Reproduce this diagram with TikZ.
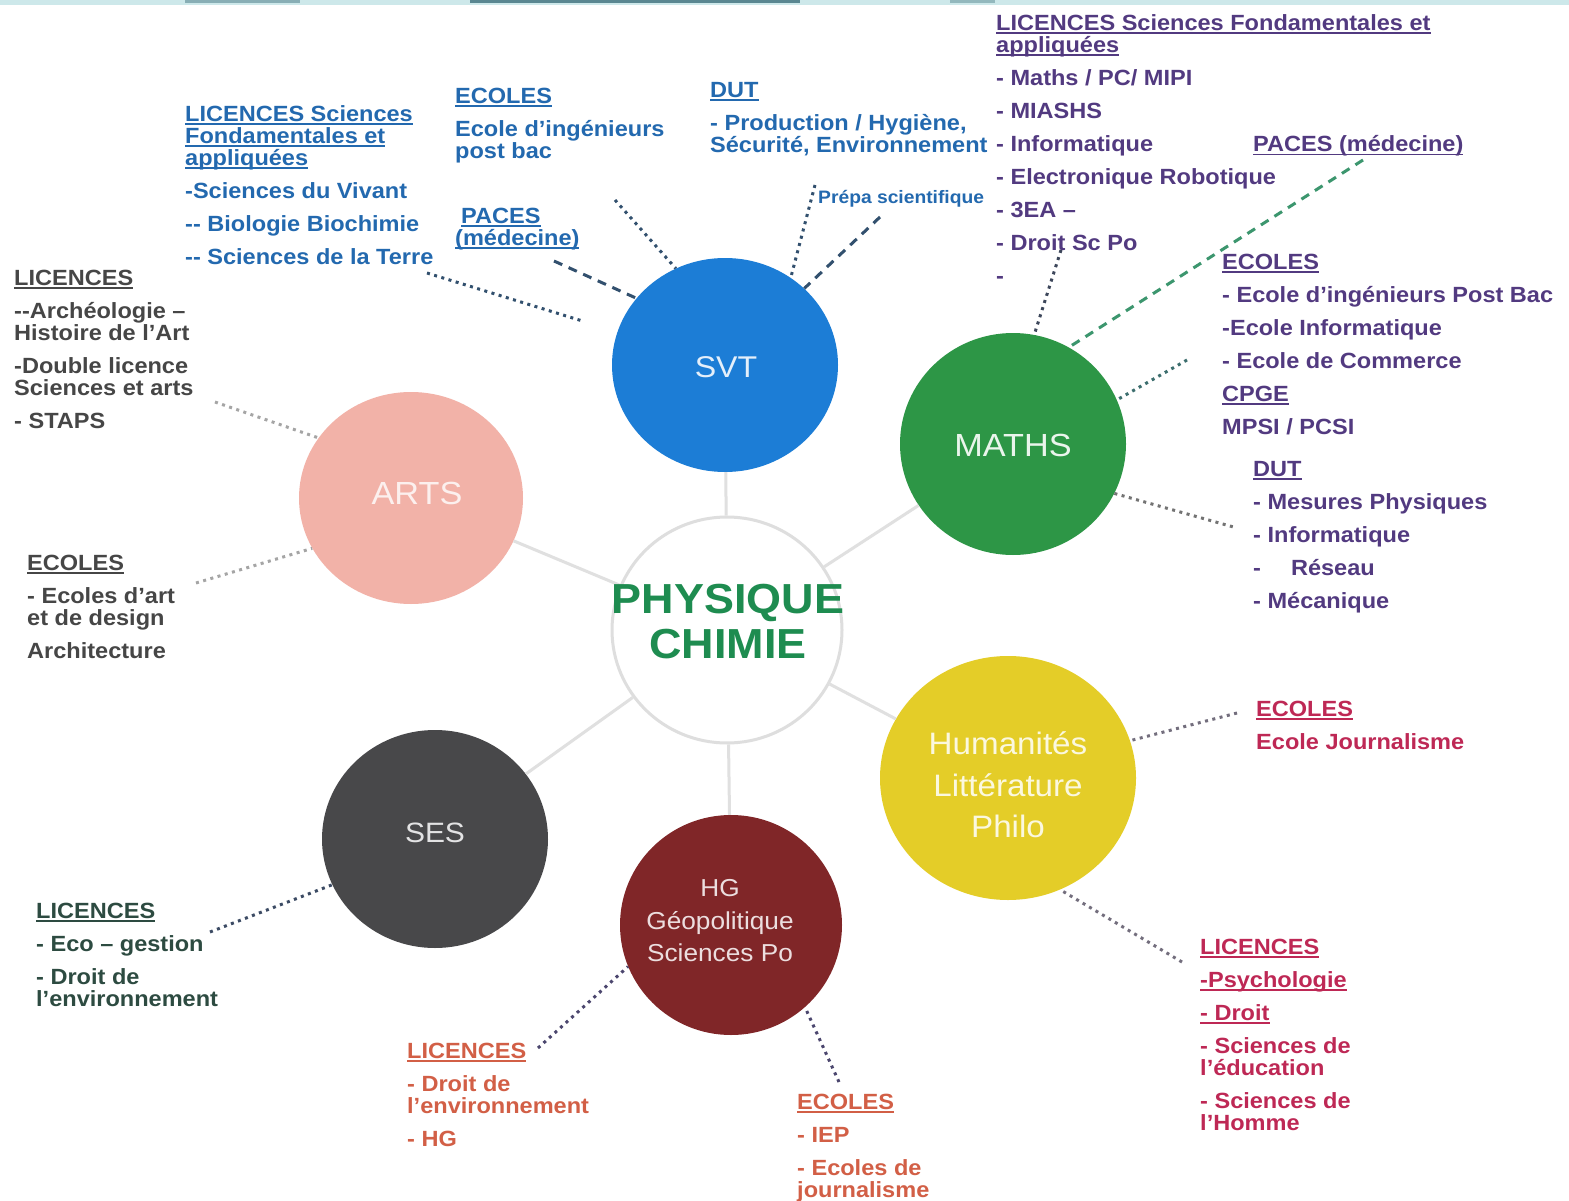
\documentclass[tikz,border=0pt]{standalone}
\usepackage{fontspec}
\setmainfont{Liberation Sans}[FakeStretch=1.07]
\usetikzlibrary{shapes.geometric}
\definecolor{svtcol}{RGB}{28,125,214}
\definecolor{mathscol}{RGB}{45,150,70}
\definecolor{artscol}{RGB}{242,178,168}
\definecolor{humcol}{RGB}{228,205,40}
\definecolor{sescol}{RGB}{72,72,74}
\definecolor{hgcol}{RGB}{128,38,40}
\definecolor{ringgray}{RGB}{222,222,222}
\definecolor{spokegray}{RGB}{224,224,224}
\definecolor{pcgreen}{RGB}{30,140,80}
\definecolor{tsvt}{RGB}{35,105,175}
\definecolor{tmaths}{RGB}{82,58,128}
\definecolor{tarts}{RGB}{70,70,70}
\definecolor{thum}{RGB}{190,40,85}
\definecolor{tses}{RGB}{45,75,65}
\definecolor{thg}{RGB}{210,95,70}
\definecolor{lsvt}{RGB}{50,80,110}
\definecolor{lmaths}{RGB}{60,70,90}
\definecolor{lgreen}{RGB}{60,150,110}
\definecolor{lteal}{RGB}{60,110,110}
\definecolor{lgray}{RGB}{115,115,115}
\definecolor{llight}{RGB}{165,165,165}
\definecolor{lhum}{RGB}{115,110,125}
\definecolor{lses}{RGB}{60,75,100}
\definecolor{lhg}{RGB}{75,70,110}
\definecolor{bandlight}{RGB}{205,232,234}
\definecolor{banddark}{RGB}{90,135,145}
\newcommand\myul[1]{\leavevmode\setbox0=\hbox{#1}\rlap{\rule[-4pt]{\wd0}{1.8pt}}\box0}
\newcommand\fs{\rule{0pt}{16pt}}
\begin{document}
\begin{tikzpicture}[x=1pt,y=-1pt,
  txt/.style={anchor=north west, inner sep=0pt, align=left, font=\fontsize{22}{22}\selectfont\bfseries},
  dotc/.style={line width=3pt, dash pattern=on 3pt off 4.5pt},
  dashc/.style={line width=3pt, dash pattern=on 9pt off 7pt},
  bub/.style={ellipse, inner sep=0pt},
  spoke/.style={draw=spokegray, line width=3pt},
  ctext/.style={align=center, inner sep=0pt}]
\fill[white] (0,0) rectangle (1569,1201);
\useasboundingbox (0,0) rectangle (1569,1201);
\fill[bandlight] (0,0) rectangle (1569,5);
\fill[banddark] (470,0) rectangle (800,3.5);
\fill[banddark!60!bandlight] (185,0) rectangle (300,3.5);
\fill[banddark!50!bandlight] (950,0) rectangle (995,3.5);

% circles
\node[bub, draw=ringgray, line width=3pt, fill=white, minimum width=230pt, minimum height=226pt] (pc) at (727,630) {};
\node[bub, fill=svtcol, minimum width=226pt, minimum height=214pt] (svt) at (725,365) {};
\node[bub, fill=mathscol, minimum width=226pt, minimum height=222pt] (maths) at (1013,444) {};
\node[bub, fill=artscol, minimum width=224pt, minimum height=212pt] (arts) at (411,498) {};
\node[bub, fill=humcol, minimum width=256pt, minimum height=244pt] (hum) at (1008,778) {};
\node[bub, fill=sescol, minimum width=226pt, minimum height=218pt] (ses) at (435,839) {};
\node[bub, fill=hgcol, minimum width=222pt, minimum height=220pt] (hg) at (731,925) {};

% spokes
\foreach \n in {svt,maths,arts,hum,ses,hg} \draw[spoke] (pc) -- (\n);

% circle labels
\node[ctext, text=white!88!svtcol, font=\fontsize{30}{36}\selectfont] (svtl) at (726,367) {SVT};
\node[ctext, text=white!90!mathscol, font=\fontsize{32}{38}\selectfont] (mathsl) at (1013,445) {MATHS};
\node[ctext, text=white!80!artscol, font=\fontsize{32}{38}\selectfont] (artsl) at (417,493) {ARTS};
\node[ctext, text=white!85!humcol, font=\fontsize{31}{41.5}\selectfont] (huml) at (1008,785) {Humanités\\Littérature\\Philo};
\node[ctext, text=white!85!sescol, font=\fontsize{28}{34}\selectfont] (sesl) at (435,833) {SES};
\node[ctext, text=white!85!hgcol, font=\fontsize{24.5}{32.5}\selectfont] (hgl) at (720,921) {HG\\Géopolitique\\Sciences Po};
\node[ctext, text=pcgreen, font=\fontsize{42}{45}\selectfont\bfseries] (pct) at (728,622) {PHYSIQUE\\CHIMIE};

% SVT texts
\node[txt, text=tsvt] (svtlic) at (185,105) {\fs\myul{LICENCES Sciences}\\\myul{Fondamentales et}\\\myul{appliquées}\\[11pt]-Sciences du Vivant\\[11pt]-{}- Biologie Biochimie\\[11pt]-{}- Sciences de la Terre};
\node[txt, text=tsvt] (svtec) at (455,87) {\fs\myul{ECOLES}\\[11pt]Ecole d’ingénieurs\\post bac};
\node[txt, text=tsvt] (svtpaces) at (455,207) {\fs\hspace{6pt}\myul{PACES}\\\myul{(médecine)}};
\node[txt, text=tsvt] (svtdut) at (710,81) {\fs\myul{DUT}\\[11pt]- Production / Hygiène,\\Sécurité, Environnement};
\node[txt, text=tsvt, font=\fontsize{18}{20}\selectfont\bfseries] (prepa) at (818,190) {\rule{0pt}{13pt}Prépa scientifique};

% MATHS texts
\node[txt, text=tmaths] (mlic) at (996,14) {\fs\myul{LICENCES Sciences Fondamentales et}\\\myul{appliquées}\\[11pt]- Maths / PC/ MIPI\\[11pt]- MIASHS\\[11pt]- Informatique\\[11pt]- Electronique Robotique\\[11pt]- 3EA –\\[11pt]- Droit Sc Po\\[11pt]-};
\node[txt, text=tmaths] (mpaces) at (1253,135) {\fs\myul{PACES (médecine)}};
\node[txt, text=tmaths] (mec) at (1222,253) {\fs\myul{ECOLES}\\[11pt]- Ecole d’ingénieurs Post Bac\\[11pt]-Ecole Informatique\\[11pt]- Ecole de Commerce\\[11pt]\myul{CPGE}\\[11pt]MPSI / PCSI};
\node[txt, text=tmaths] (mdut) at (1253,460) {\fs\myul{DUT}\\[11pt]- Mesures Physiques\\[11pt]- Informatique\\[11pt]-\hspace{30pt}Réseau\\[11pt]- Mécanique};

% ARTS texts
\node[txt, text=tarts] (alic) at (14,269) {\fs\myul{LICENCES}\\[11pt]-{}-Archéologie –\\Histoire de l’Art\\[11pt]-Double licence\\Sciences et arts\\[11pt]- STAPS};
\node[txt, text=tarts] (aec) at (27,554) {\fs\myul{ECOLES}\\[11pt]- Ecoles d’art\\et de design\\[11pt]Architecture};

% Humanites texts
\node[txt, text=thum] (hec) at (1256,700) {\fs\myul{ECOLES}\\[11pt]Ecole Journalisme};
\node[txt, text=thum] (hlic) at (1200,938) {\fs\myul{LICENCES}\\[11pt]\myul{-Psychologie}\\[11pt]\myul{- Droit}\\[11pt]- Sciences de\\l’éducation\\[11pt]- Sciences de\\l’Homme};

% SES texts
\node[txt, text=tses] (slic) at (36,902) {\fs\myul{LICENCES}\\[11pt]- Eco – gestion\\[11pt]- Droit de\\l’environnement};

% HG texts
\node[txt, text=thg] (glic) at (407,1042) {\fs\myul{LICENCES}\\[11pt]- Droit de\\l’environnement\\[11pt]- HG};
\node[txt, text=thg] (gec) at (797,1093) {\fs\myul{ECOLES}\\[11pt]- IEP\\[11pt]- Ecoles de\\journalisme};

% connectors
\coordinate (e1) at (427,273);
\draw[dotc, lsvt, shorten >=36pt] (e1) -- (svt);
\coordinate (e2) at (554,261);
\draw[dashc, lsvt] (e2) -- (svt.143);
\coordinate (e3) at (615,200);
\draw[dotc, lsvt] (e3) -- (svt.117);
\coordinate (e4) at (815,185);
\draw[dotc, lsvt] (e4) -- (svt.53);
\coordinate (e5) at (880,217);
\draw[dashc, lsvt] (e5) -- (svt.44);

\coordinate (e6) at (1061,250);
\draw[dotc, lmaths] (e6) -- (maths.79);
\coordinate (e7) at (1363,160);
\draw[dashc, lgreen] (e7) -- (maths.60);
\coordinate (e8) at (1187,360);
\draw[dotc, lteal] (e8) -- (maths.23);
\coordinate (e9) at (1237,528);
\draw[dotc, lgray] (maths.-26) -- (e9);

\coordinate (e10) at (215,402);
\draw[dotc, llight] (e10) -- (arts.147);
\coordinate (e11) at (196,583);
\draw[dotc, llight] (e11) -- (arts.207);

\coordinate (e12) at (1237,713);
\draw[dotc, lhum] (e12) -- (hum.17);
\coordinate (e13) at (1182,962);
\draw[dotc, lhum] (e13) -- (hum.-65);

\coordinate (e14) at (210,932);
\draw[dotc, lses] (e14) -- (ses.204);

\coordinate (e15) at (538,1048);
\draw[dotc, lhg] (e15) -- (hg.202);
\coordinate (e16) at (839,1082);
\draw[dotc, lhg] (e16) -- (hg.-48);
\end{tikzpicture}
\end{document}
